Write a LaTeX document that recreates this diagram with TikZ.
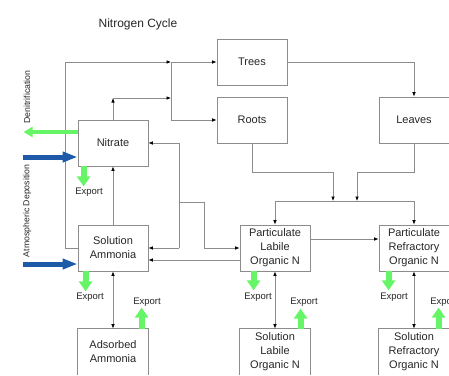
\documentclass[tikz,border=0pt]{standalone}
\usepackage{fontspec}
\setmainfont{Liberation Sans}
\usetikzlibrary{arrows.meta,calc}
\definecolor{linegray}{HTML}{8C8C8C}
\definecolor{expgreen}{HTML}{66F566}
\definecolor{depblue}{HTML}{1F5AA8}
\definecolor{txt}{HTML}{262626}
\begin{document}
\begin{tikzpicture}[x=1pt,y=-1pt,
  >={Latex[length=4.5pt,width=3.6pt,color=black]},
  box/.style={draw=linegray,line width=0.8pt,minimum width=70pt,minimum height=46pt,
    inner sep=0pt,align=center,font=\fontsize{11}{14}\selectfont,text=txt},
  openbox/.style={box,draw=none},
  boxline/.style={draw=linegray,line width=0.8pt},
  wire/.style={draw=linegray,line width=0.7pt},
  conn/.style={wire,->},
  conn2/.style={wire,<->},
  exportarr/.style={draw=expgreen,line width=6pt,-{Triangle[length=10pt,width=13pt]}},
  denarr/.style={draw=expgreen,line width=4.5pt,-{Triangle[length=9pt,width=10pt]}},
  deparr/.style={draw=depblue,line width=5pt,-{Triangle[length=15pt,width=10pt]}},
  lbl/.style={font=\fontsize{9.5}{11}\selectfont,text=txt,inner sep=0pt},
  side/.style={font=\fontsize{8.75}{10}\selectfont,text=txt,rotate=90,inner sep=0pt}]
\useasboundingbox (0,0) rectangle (449,375);
\clip (0,0) rectangle (449,375);

% title
\node[font=\fontsize{12}{14}\selectfont,text=txt] (title) at (138,24) {Nitrogen Cycle};

% compartments
\node[box] (trees) at (252,62) {Trees};
\node[box] (roots) at (252,120) {Roots};
\node[box] (leaves) at (414,120) {Leaves};
\node[box] (nitrate) at (113,143) {Nitrate};
\node[box] (sa) at (113,248) {Solution\\Ammonia};
\node[box] (pl) at (275,248) {Particulate\\Labile\\Organic N};
\node[box] (pr) at (414,248) {Particulate\\Refractory\\Organic N};
\node[openbox] (ads) at (113,352) {Adsorbed\\Ammonia};
\node[openbox] (sl) at (275,352) {Solution\\Labile\\Organic N};
\node[openbox] (sr) at (414,352) {Solution\\Refractory\\Organic N};
\foreach \b in {ads,sl,sr}
  \draw[boxline] (\b.south west) -- (\b.north west) -- (\b.north east) -- (\b.south east);

% uptake by trees and roots
\coordinate (ltop) at (65,62);
\coordinate (jt) at (171,62);
\coordinate (nup) at (113,98);
\coordinate (jr) at (171,98);
\draw[conn] (sa.west) -| (ltop) -- (jt);
\draw[conn] (jt) -- (trees.west);
\draw[conn] (jt) |- (roots.west);
\draw[conn] (nitrate.north) -- (nup);
\draw[conn] (nup) -- (jr);
\draw[conn] (sa.north) -- (nitrate.south);

% return network to the inorganic pools
\coordinate (rt) at (179,143);
\coordinate (rm) at (179,202);
\coordinate (rb) at (179,248);
\coordinate (rk) at (204,202);
\draw[wire] (rt) -- (rb);
\draw[conn] (rt) -- (nitrate.east);
\draw[conn] (rb) -- (sa.east);
\draw[conn] (rm) -- (rk) |- (pl.west);
\draw[conn] ([yshift=-12pt]pl.west) -- ([yshift=-12pt]sa.east);

% litter fall
\coordinate (barL) at (275,201);
\coordinate (barR) at (414,201);
\draw[conn] (trees.east) -| (leaves.north);
\draw[conn] (roots.south) -- ++(0,29) -| (333,201);
\draw[conn] (leaves.south) -- ++(0,29) -| (357,201);
\draw[wire] (barL) -- (barR);
\draw[conn] (barL) -- (pl.north);
\draw[conn] (barR) -- (pr.north);
\draw[conn] ([yshift=9pt]pl.east) -- ([yshift=9pt]pr.west);

% exchange with dissolved pools
\draw[conn2] (sa.south) -- (ads.north);
\draw[conn2] (pl.south) -- (sl.north);
\draw[conn2] (pr.south) -- (sr.north);

% external fluxes
\draw[denarr] ([yshift=11pt]nitrate.west) -- ++(-54,0);
\draw[deparr] ([xshift=-55pt,yshift=-14pt]nitrate.west) -- ([yshift=-14pt]nitrate.west);
\draw[deparr] ([xshift=-55pt,yshift=-16pt]sa.west) -- ([yshift=-16pt]sa.west);
\node[side] (denit) at (27,97) {Denitrification};
\node[side] (atmo) at (27,211) {Atmospheric Deposition};

\draw[exportarr] ([xshift=6pt]nitrate.south west) -- ++(0,20);
\draw[exportarr] ([xshift=8pt]sa.south west) -- ++(0,20);
\draw[exportarr] ([xshift=64pt]ads.north west) -- ++(0,-21);
\draw[exportarr] ([xshift=14pt]pl.south west) -- ++(0,19);
\draw[exportarr] ([xshift=61pt]sl.north west) -- ++(0,-20);
\draw[exportarr] ([xshift=10pt]pr.south west) -- ++(0,19);
\draw[exportarr] ([xshift=60pt]sr.north west) -- ++(0,-21);

\node[lbl] (ex1) at (89,192) {Export};
\node[lbl] (ex2) at (90,297) {Export};
\node[lbl] (ex3) at (147,302) {Export};
\node[lbl] (ex4) at (258,297) {Export};
\node[lbl] (ex5) at (304,302) {Export};
\node[lbl] (ex6) at (394,297) {Export};
\node[lbl] (ex7) at (444,302) {Export};
\end{tikzpicture}
\end{document}
